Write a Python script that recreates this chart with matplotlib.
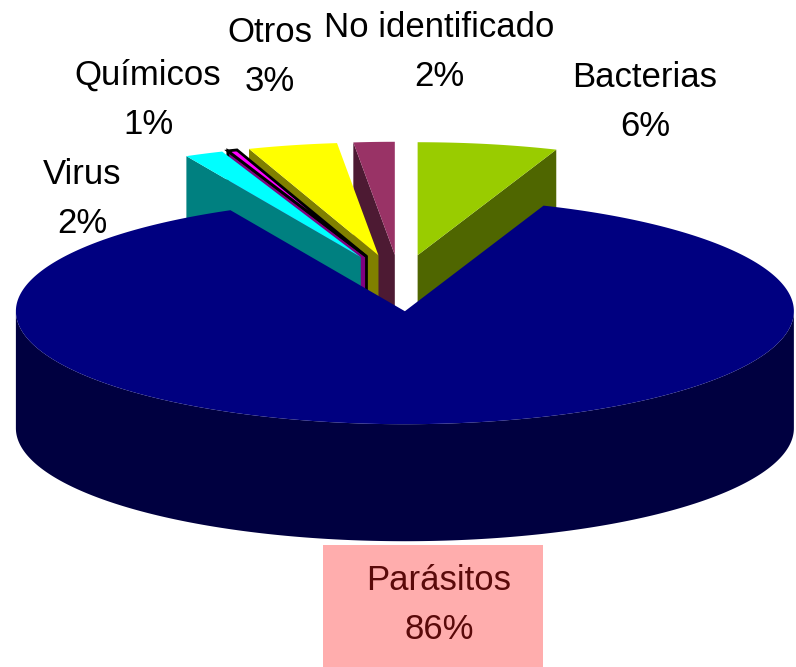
import numpy as np
import matplotlib
matplotlib.use('Agg')
import matplotlib.pyplot as plt

plt.rcParams['font.family'] = ['Liberation Sans', 'DejaVu Sans']

# shares, percents from the labels
categories = ['Bacterias', 'No identificado', 'Otros', 'Químicos', 'Virus', 'Parásitos']
shares = [5.8, 1.7, 3.7, 0.4, 1.6, 86.8]
percents = [6, 2, 3, 1, 2, 86]
top_colors = ['#99CC00', '#993366', '#FFFF00', '#FF00FF', '#00FFFF', '#000080']
side_colors = ['#4F6600', '#4D1A33', '#808000', '#800080', '#008080', '#000040']

# where the labels sit, in pixels
label_pos = [(645, 102), (439, 52), (270, 57), (148, 100), (82, 199), (439, 605)]

cx, cy = 400, 283
rx, ry = 389, 113
depth = 117
explode = 0.25

fig = plt.figure(figsize=(7.96, 6.67), dpi=100)
ax = fig.add_axes([0, 0, 1, 1])
ax.set_xlim(0, 796)
ax.set_ylim(667, 0)
ax.axis('off')


def rim(ox, oy, t):
    return ox + rx * np.sin(t), oy - ry * np.cos(t)


def draw_slice(i, t1, t2):
    mid = (t1 + t2) / 2
    ox = cx + explode * rx * np.sin(mid)
    oy = cy - explode * ry * np.cos(mid)
    x, y = rim(ox, oy, np.linspace(t1, t2, 400))
    lw = 2 if categories[i] == 'Químicos' else 0
    ec = 'black' if lw else 'none'

    if categories[i] == 'Parásitos':
        # round front wall
        fx, fy = rim(ox, oy, np.linspace(np.pi / 2, 3 * np.pi / 2, 400))
        ax.fill(np.r_[fx, fx[::-1]], np.r_[fy, fy[::-1] + depth], color=side_colors[i], lw=0)
    else:
        # flat wall on the side that faces the viewer
        ex, ey = rim(ox, oy, t2 if mid > 0 else t1)
        ax.fill([ox, ex, ex, ox], [oy, ey, ey + depth, oy + depth],
                facecolor=side_colors[i], edgecolor=ec, lw=lw)

    ax.fill(np.r_[ox, x], np.r_[oy, y], facecolor=top_colors[i], edgecolor=ec, lw=lw)


# Bacterias goes right of 12 o'clock, the small ones left of it, Parásitos takes the rest
steps = np.radians(np.array(shares) * 3.6)
angles = [(0.0, steps[0])]
left = 0.0
for step in steps[1:-1]:
    angles.append((left - step, left))
    left -= step
angles.append((steps[0], 2 * np.pi + left))

for i in [1, 0, 2, 3, 4, 5]:
    draw_slice(i, *angles[i])

# Parásitos label box
ax.axvspan(323, 543, ymin=0, ymax=(667 - 545) / 667, color='#FFADAD', lw=0)

for name, pct, (x, y) in zip(categories, percents, label_pos):
    color = '#5A0A0A' if name == 'Parásitos' else 'black'
    ax.text(x, y, f'{name}\n{pct}%', ha='center', va='center', multialignment='center',
            fontsize=25, linespacing=1.65, color=color)

fig.savefig('out.png', dpi=100)
